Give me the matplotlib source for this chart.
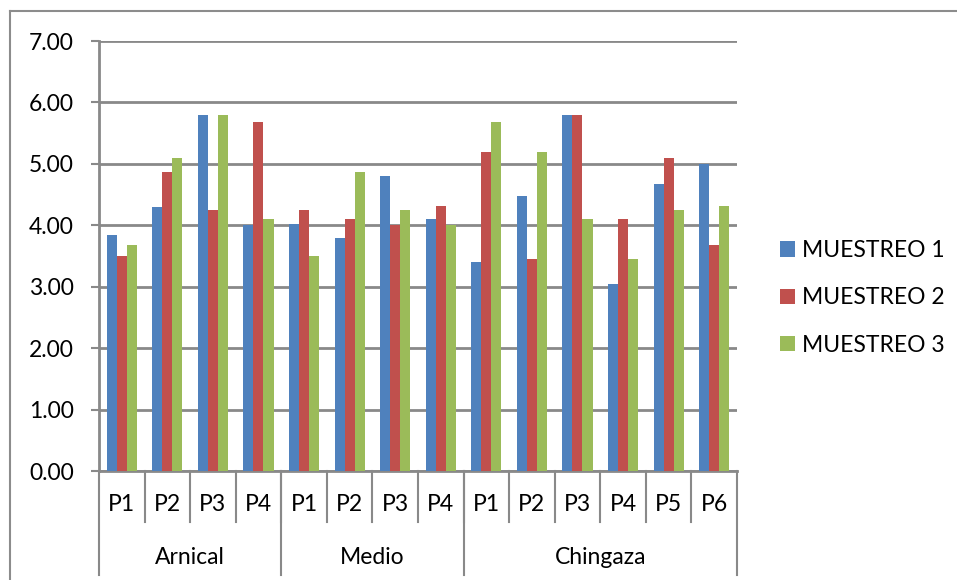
import numpy as np
import matplotlib.pyplot as plt
from matplotlib.lines import Line2D
import matplotlib.transforms as mtransforms

plt.rcParams['font.family'] = ['Lato', 'DejaVu Sans']

# data
groups = ["Arnical", "Medio", "Chingaza"]
group_sizes = [4, 4, 6]
points = ["P1", "P2", "P3", "P4", "P1", "P2", "P3", "P4",
          "P1", "P2", "P3", "P4", "P5", "P6"]
series_names = ["MUESTREO 1", "MUESTREO 2", "MUESTREO 3"]
muestreo1 = [3.84, 4.30, 5.80, 4.00, 4.02, 3.80, 4.80, 4.10,
             3.40, 4.48, 5.80, 3.04, 4.68, 5.00]
muestreo2 = [3.50, 4.87, 4.25, 5.68, 4.25, 4.10, 4.00, 4.32,
             5.20, 3.45, 5.80, 4.10, 5.10, 3.68]
muestreo3 = [3.68, 5.10, 5.80, 4.10, 3.50, 4.86, 4.25, 4.00,
             5.68, 5.20, 4.10, 3.45, 4.25, 4.32]
colors = ["#4F81BD", "#C0504D", "#9BBB59"]
yticks = [0, 1, 2, 3, 4, 5, 6, 7]

fig = plt.figure(figsize=(9.57, 5.8), dpi=100)
ax = fig.add_axes([0.1034, 0.1879, 0.6667, 0.7414])

x = np.arange(len(points))
w = 0.22
for i, (vals, name, c) in enumerate(zip([muestreo1, muestreo2, muestreo3], series_names, colors)):
    ax.bar(x + (i - 1) * w, vals, width=w, color=c, label=name, zorder=3)

grid_col = "#898989"
ax.set_xlim(-0.5, len(points) - 0.5)
ax.set_ylim(0, 7)
ax.set_yticks(yticks)
ax.set_yticklabels([f"{v:.2f}" for v in yticks], fontsize=16.5)
ax.yaxis.grid(True, color=grid_col, linewidth=2, zorder=0)
ax.set_axisbelow(True)
ax.tick_params(axis='y', length=6, width=1.5, color=grid_col, pad=12)
ax.set_xticks([])
for s in ["top", "right"]:
    ax.spines[s].set_visible(False)
ax.spines["left"].set_visible(False)
ax.spines["bottom"].set_color(grid_col)
ax.spines["bottom"].set_linewidth(2)

# multi-level category axis
trans = mtransforms.blended_transform_factory(ax.transData, ax.transAxes)
inner = -51 / 430
outer = -104 / 430
for k in range(1, len(points)):
    ax.add_line(Line2D([k - 0.5, k - 0.5], [0, inner], transform=trans,
                       color=grid_col, lw=1.5, clip_on=False))
for xi, lab in zip(x, points):
    ax.text(xi, -33 / 430, lab, transform=trans, ha="center", va="center", fontsize=16.5)
edges = np.concatenate([[0], np.cumsum(group_sizes)]) - 0.5
for e in edges:
    ax.add_line(Line2D([e, e], [0, outer], transform=trans,
                       color=grid_col, lw=1.5, clip_on=False))
ax.add_line(Line2D([-0.5, -0.5], [0, 1], transform=trans,
                   color=grid_col, lw=2, clip_on=False))
for g, a, b in zip(groups, edges[:-1], edges[1:]):
    ax.text((a + b) / 2, -86 / 430, g, transform=trans, ha="center", va="center", fontsize=16.5)

# outer chart frame
fig.add_artist(Line2D([10 / 957, 10 / 957], [0, 1 - 11 / 580], color="#8c8c8c", lw=1.5))
fig.add_artist(Line2D([10 / 957, 1], [1 - 11 / 580, 1 - 11 / 580], color="#8c8c8c", lw=1.5))

fig.legend(loc="center left", bbox_to_anchor=(780 / 957, 1 - 298 / 580), frameon=False,
           borderaxespad=0, borderpad=0,
           fontsize=16.5, handlelength=0.65, handleheight=0.65, handletextpad=0.3,
           labelspacing=1.15)

fig.savefig("out.png", dpi=100)
